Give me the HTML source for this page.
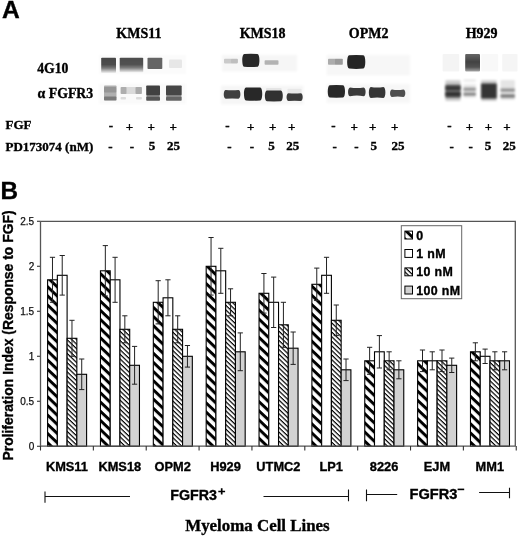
<!DOCTYPE html><html><head><meta charset="utf-8"><style>
html,body{margin:0;padding:0;background:#fff;}
svg{display:block;will-change:transform;}
.ss{font-family:"Liberation Sans",sans-serif;}
.hv{stroke:#000;stroke-width:0.35px;}.hv2{stroke:#111;stroke-width:0.25px;}
.sf{font-family:"Liberation Serif",serif;}
</style></head><body>
<svg width="520" height="537" viewBox="0 0 520 537">
<defs>
<pattern id="pThick" patternUnits="userSpaceOnUse" width="6.58" height="6.58" patternTransform="rotate(43.7) translate(0,3.43)"><rect x="0" y="0" width="6.58" height="6.58" fill="#fff"/><rect x="0" y="0" width="6.58" height="2.96" fill="#000"/></pattern>
<pattern id="pThin" patternUnits="userSpaceOnUse" width="3.29" height="3.29" patternTransform="rotate(43.7) translate(0,1.75)"><rect x="0" y="0" width="3.29" height="3.29" fill="#fff"/><rect x="0" y="0" width="3.29" height="1.2" fill="#000"/></pattern>
<filter id="b1" x="-50%" y="-50%" width="200%" height="200%"><feGaussianBlur stdDeviation="0.75"/></filter>
<filter id="b2" x="-50%" y="-50%" width="200%" height="200%"><feGaussianBlur stdDeviation="0.8"/></filter>
<linearGradient id="gFade" x1="0" y1="0" x2="0" y2="1"><stop offset="0" stop-color="#000" stop-opacity="0.75"/><stop offset="0.55" stop-color="#000" stop-opacity="0.45"/><stop offset="1" stop-color="#000" stop-opacity="0.03"/></linearGradient>
<linearGradient id="gMid" x1="0" y1="0" x2="0" y2="1"><stop offset="0" stop-color="#000" stop-opacity="0.6"/><stop offset="0.45" stop-color="#000" stop-opacity="0.74"/><stop offset="0.75" stop-color="#000" stop-opacity="0.68"/><stop offset="1" stop-color="#000" stop-opacity="0.35"/></linearGradient>
<filter id="b3" x="-50%" y="-50%" width="200%" height="200%"><feGaussianBlur stdDeviation="1.3"/></filter>
<linearGradient id="gBand" x1="0" y1="0" x2="0" y2="1"><stop offset="0" stop-color="#000" stop-opacity="0.72"/><stop offset="0.45" stop-color="#000" stop-opacity="0.7"/><stop offset="0.68" stop-color="#000" stop-opacity="0.52"/><stop offset="0.86" stop-color="#000" stop-opacity="0.25"/><stop offset="1" stop-color="#000" stop-opacity="0.04"/></linearGradient>
<pattern id="pK0" patternUnits="userSpaceOnUse" width="6.63" height="6.63" patternTransform="rotate(43.7) translate(0,0.60)"><rect width="6.63" height="6.63" fill="#fff"/><rect width="6.63" height="2.98" fill="#000"/></pattern>
<pattern id="pN0" patternUnits="userSpaceOnUse" width="3.315" height="3.315" patternTransform="rotate(43.7) translate(0,3.01)"><rect width="3.315" height="3.315" fill="#fff"/><rect width="3.315" height="1.2" fill="#000"/></pattern>
<pattern id="pK1" patternUnits="userSpaceOnUse" width="6.63" height="6.63" patternTransform="rotate(43.7) translate(0,1.04)"><rect width="6.63" height="6.63" fill="#fff"/><rect width="6.63" height="2.98" fill="#000"/></pattern>
<pattern id="pN1" patternUnits="userSpaceOnUse" width="3.315" height="3.315" patternTransform="rotate(43.7) translate(0,0.22)"><rect width="3.315" height="3.315" fill="#fff"/><rect width="3.315" height="1.2" fill="#000"/></pattern>
<pattern id="pK2" patternUnits="userSpaceOnUse" width="6.63" height="6.63" patternTransform="rotate(43.7) translate(0,2.08)"><rect width="6.63" height="6.63" fill="#fff"/><rect width="6.63" height="2.98" fill="#000"/></pattern>
<pattern id="pN2" patternUnits="userSpaceOnUse" width="3.315" height="3.315" patternTransform="rotate(43.7) translate(0,0.81)"><rect width="3.315" height="3.315" fill="#fff"/><rect width="3.315" height="1.2" fill="#000"/></pattern>
<pattern id="pK3" patternUnits="userSpaceOnUse" width="6.63" height="6.63" patternTransform="rotate(43.7) translate(0,1.51)"><rect width="6.63" height="6.63" fill="#fff"/><rect width="6.63" height="2.98" fill="#000"/></pattern>
<pattern id="pN3" patternUnits="userSpaceOnUse" width="3.315" height="3.315" patternTransform="rotate(43.7) translate(0,1.12)"><rect width="3.315" height="3.315" fill="#fff"/><rect width="3.315" height="1.2" fill="#000"/></pattern>
<pattern id="pK4" patternUnits="userSpaceOnUse" width="6.63" height="6.63" patternTransform="rotate(43.7) translate(0,3.90)"><rect width="6.63" height="6.63" fill="#fff"/><rect width="6.63" height="2.98" fill="#000"/></pattern>
<pattern id="pN4" patternUnits="userSpaceOnUse" width="3.315" height="3.315" patternTransform="rotate(43.7) translate(0,3.08)"><rect width="3.315" height="3.315" fill="#fff"/><rect width="3.315" height="1.2" fill="#000"/></pattern>
<pattern id="pK5" patternUnits="userSpaceOnUse" width="6.63" height="6.63" patternTransform="rotate(43.7) translate(0,3.28)"><rect width="6.63" height="6.63" fill="#fff"/><rect width="6.63" height="2.98" fill="#000"/></pattern>
<pattern id="pN5" patternUnits="userSpaceOnUse" width="3.315" height="3.315" patternTransform="rotate(43.7) translate(0,0.36)"><rect width="3.315" height="3.315" fill="#fff"/><rect width="3.315" height="1.2" fill="#000"/></pattern>
<pattern id="pK6" patternUnits="userSpaceOnUse" width="6.63" height="6.63" patternTransform="rotate(43.7) translate(0,5.88)"><rect width="6.63" height="6.63" fill="#fff"/><rect width="6.63" height="2.98" fill="#000"/></pattern>
<pattern id="pN6" patternUnits="userSpaceOnUse" width="3.315" height="3.315" patternTransform="rotate(43.7) translate(0,1.24)"><rect width="3.315" height="3.315" fill="#fff"/><rect width="3.315" height="1.2" fill="#000"/></pattern>
<pattern id="pK7" patternUnits="userSpaceOnUse" width="6.63" height="6.63" patternTransform="rotate(43.7) translate(0,6.06)"><rect width="6.63" height="6.63" fill="#fff"/><rect width="6.63" height="2.98" fill="#000"/></pattern>
<pattern id="pN7" patternUnits="userSpaceOnUse" width="3.315" height="3.315" patternTransform="rotate(43.7) translate(0,1.97)"><rect width="3.315" height="3.315" fill="#fff"/><rect width="3.315" height="1.2" fill="#000"/></pattern>
<pattern id="pK8" patternUnits="userSpaceOnUse" width="6.63" height="6.63" patternTransform="rotate(43.7) translate(0,6.43)"><rect width="6.63" height="6.63" fill="#fff"/><rect width="6.63" height="2.98" fill="#000"/></pattern>
<pattern id="pN8" patternUnits="userSpaceOnUse" width="3.315" height="3.315" patternTransform="rotate(43.7) translate(0,2.43)"><rect width="3.315" height="3.315" fill="#fff"/><rect width="3.315" height="1.2" fill="#000"/></pattern>
</defs>
<text class="ss hv" x="1.9" y="18.4" font-size="24.6" font-weight="bold">A</text>
<text class="sf hv" x="138.9" y="38.3" font-size="14" font-weight="bold" text-anchor="middle">KMS11</text>
<text class="sf hv" x="262.6" y="38.3" font-size="14" font-weight="bold" text-anchor="middle">KMS18</text>
<text class="sf hv" x="368.7" y="38.3" font-size="14" font-weight="bold" text-anchor="middle">OPM2</text>
<text class="sf hv" x="481.6" y="38.3" font-size="14" font-weight="bold" text-anchor="middle">H929</text>
<text class="sf hv" x="37.2" y="73.2" font-size="13.7" font-weight="bold">4G10</text>
<text class="sf hv" x="37.6" y="98.1" font-size="13.8" font-weight="bold">α FGFR3</text>
<text class="sf hv" x="5.5" y="129.2" font-size="13" font-weight="bold">FGF</text>
<text class="sf hv" x="5.5" y="150.5" font-size="13" font-weight="bold">PD173074 (nM)</text>
<text class="sf hv" x="110.8" y="130.0" font-size="13" font-weight="bold" text-anchor="middle">-</text>
<text class="sf hv" x="129.4" y="130.6" font-size="13" font-weight="bold" text-anchor="middle">+</text>
<text class="sf hv" x="151.1" y="130.6" font-size="13" font-weight="bold" text-anchor="middle">+</text>
<text class="sf hv" x="173.2" y="130.6" font-size="13" font-weight="bold" text-anchor="middle">+</text>
<text class="sf hv" x="110.4" y="151.2" font-size="13" font-weight="bold" text-anchor="middle">-</text>
<text class="sf hv" x="132.0" y="151.2" font-size="13" font-weight="bold" text-anchor="middle">-</text>
<text class="sf hv" x="152.0" y="150.3" font-size="13" font-weight="bold" text-anchor="middle">5</text>
<text class="sf hv" x="173.4" y="150.3" font-size="13" font-weight="bold" text-anchor="middle">25</text>
<text class="sf hv" x="227.3" y="130.0" font-size="13" font-weight="bold" text-anchor="middle">-</text>
<text class="sf hv" x="250.8" y="130.6" font-size="13" font-weight="bold" text-anchor="middle">+</text>
<text class="sf hv" x="272.8" y="130.6" font-size="13" font-weight="bold" text-anchor="middle">+</text>
<text class="sf hv" x="291.8" y="130.6" font-size="13" font-weight="bold" text-anchor="middle">+</text>
<text class="sf hv" x="229.5" y="151.2" font-size="13" font-weight="bold" text-anchor="middle">-</text>
<text class="sf hv" x="252.0" y="151.2" font-size="13" font-weight="bold" text-anchor="middle">-</text>
<text class="sf hv" x="271.6" y="150.3" font-size="13" font-weight="bold" text-anchor="middle">5</text>
<text class="sf hv" x="292.7" y="150.3" font-size="13" font-weight="bold" text-anchor="middle">25</text>
<text class="sf hv" x="333.5" y="130.0" font-size="13" font-weight="bold" text-anchor="middle">-</text>
<text class="sf hv" x="354.3" y="130.6" font-size="13" font-weight="bold" text-anchor="middle">+</text>
<text class="sf hv" x="372.8" y="130.6" font-size="13" font-weight="bold" text-anchor="middle">+</text>
<text class="sf hv" x="394.8" y="130.6" font-size="13" font-weight="bold" text-anchor="middle">+</text>
<text class="sf hv" x="334.7" y="151.2" font-size="13" font-weight="bold" text-anchor="middle">-</text>
<text class="sf hv" x="356.3" y="151.2" font-size="13" font-weight="bold" text-anchor="middle">-</text>
<text class="sf hv" x="373.7" y="150.3" font-size="13" font-weight="bold" text-anchor="middle">5</text>
<text class="sf hv" x="397.9" y="150.3" font-size="13" font-weight="bold" text-anchor="middle">25</text>
<text class="sf hv" x="449.4" y="130.0" font-size="13" font-weight="bold" text-anchor="middle">-</text>
<text class="sf hv" x="469.5" y="130.6" font-size="13" font-weight="bold" text-anchor="middle">+</text>
<text class="sf hv" x="488.5" y="130.6" font-size="13" font-weight="bold" text-anchor="middle">+</text>
<text class="sf hv" x="507.0" y="130.6" font-size="13" font-weight="bold" text-anchor="middle">+</text>
<text class="sf hv" x="451.6" y="151.2" font-size="13" font-weight="bold" text-anchor="middle">-</text>
<text class="sf hv" x="470.7" y="151.2" font-size="13" font-weight="bold" text-anchor="middle">-</text>
<text class="sf hv" x="488.0" y="150.3" font-size="13" font-weight="bold" text-anchor="middle">5</text>
<text class="sf hv" x="509.3" y="150.3" font-size="13" font-weight="bold" text-anchor="middle">25</text>
<g>
<rect x="99.0" y="83.5" width="87.0" height="20.5" rx="0" fill="#000" fill-opacity="0.02" filter="url(#b2)"/>
<rect x="99.0" y="55.0" width="87.0" height="19.0" rx="0" fill="#000" fill-opacity="0.015" filter="url(#b2)"/>
<rect x="222.0" y="54.8" width="75.0" height="16.7" rx="0" fill="#000" fill-opacity="0.035" filter="url(#b2)"/>
<rect x="221.0" y="85.5" width="82.5" height="19.0" rx="0" fill="#000" fill-opacity="0.035" filter="url(#b2)"/>
<rect x="326.6" y="55.0" width="83.4" height="20.4" rx="0" fill="#000" fill-opacity="0.03" filter="url(#b2)"/>
<rect x="326.6" y="84.0" width="83.4" height="19.0" rx="0" fill="#000" fill-opacity="0.03" filter="url(#b2)"/>
<rect x="101.2" y="57.7" width="14.8" height="15.3" rx="0.8" fill="url(#gBand)" fill-opacity="1" filter="url(#b1)"/>
<rect x="119.7" y="57.8" width="23.5" height="14.7" rx="0.8" fill="url(#gBand)" fill-opacity="0.97" filter="url(#b1)"/>
<rect x="147.5" y="57.7" width="14.8" height="11.4" rx="0.8" fill="#000" fill-opacity="0.6" filter="url(#b1)"/>
<rect x="169.0" y="59.5" width="13.0" height="8.5" rx="0.8" fill="#000" fill-opacity="0.08" filter="url(#b1)"/>
<rect x="104.0" y="85.5" width="12.5" height="15.3" rx="0.8" fill="#000" fill-opacity="0.3" filter="url(#b1)"/>
<rect x="104.0" y="87.0" width="12.5" height="5.5" rx="0.8" fill="#000" fill-opacity="0.15" filter="url(#b1)"/>
<rect x="104.0" y="96.5" width="12.5" height="3.8" rx="0.8" fill="#000" fill-opacity="0.3" filter="url(#b1)"/>
<rect x="120.6" y="87.0" width="21.3" height="7.0" rx="0.8" fill="#000" fill-opacity="0.13" filter="url(#b1)"/>
<rect x="120.6" y="87.0" width="5.9" height="7.0" rx="0.8" fill="#000" fill-opacity="0.2" filter="url(#b1)"/>
<rect x="135.5" y="87.0" width="6.4" height="7.0" rx="0.8" fill="#000" fill-opacity="0.22" filter="url(#b1)"/>
<rect x="120.6" y="97.0" width="5.4" height="2.5" rx="0.8" fill="#000" fill-opacity="0.12" filter="url(#b1)"/>
<rect x="136.0" y="97.0" width="5.9" height="2.5" rx="0.8" fill="#000" fill-opacity="0.12" filter="url(#b1)"/>
<rect x="146.2" y="85.5" width="13.8" height="9.7" rx="0.8" fill="#000" fill-opacity="0.74" filter="url(#b1)"/>
<rect x="146.2" y="95.2" width="13.8" height="1.6" rx="0.8" fill="#000" fill-opacity="0.55" filter="url(#b1)"/>
<rect x="146.2" y="96.8" width="13.8" height="4.0" rx="0.8" fill="#000" fill-opacity="0.66" filter="url(#b1)"/>
<rect x="166.0" y="85.5" width="15.7" height="9.7" rx="0.8" fill="#000" fill-opacity="0.72" filter="url(#b1)"/>
<rect x="166.0" y="95.2" width="15.7" height="1.6" rx="0.8" fill="#000" fill-opacity="0.5" filter="url(#b1)"/>
<rect x="166.0" y="96.8" width="15.7" height="4.0" rx="0.8" fill="#000" fill-opacity="0.6" filter="url(#b1)"/>
<rect x="224.0" y="58.8" width="13.9" height="4.6" rx="0.8" fill="#000" fill-opacity="0.18" filter="url(#b1)"/>
<rect x="231.0" y="58.8" width="6.9" height="4.6" rx="0.8" fill="#000" fill-opacity="0.06" filter="url(#b1)"/>
<path d="M244.3 54.0Q250.8 53.5 257.4 54.0C260.1 54.0 260.1 66.8 257.4 66.8Q250.8 67.3 244.3 66.8C241.6 66.8 241.6 54.0 244.3 54.0Z" fill="#000" fill-opacity="0.84" filter="url(#b1)"/>
<rect x="264.6" y="60.2" width="13.9" height="4.6" rx="0.8" fill="#000" fill-opacity="0.27" filter="url(#b1)"/>
<path d="M225.8 90.0Q232.1 90.6 238.4 90.0C241.1 90.0 241.1 98.7 238.4 98.7Q232.1 98.1 225.8 98.7C223.1 98.7 223.1 90.0 225.8 90.0Z" fill="#000" fill-opacity="0.74" filter="url(#b1)"/>
<path d="M246.0 87.6Q253.1 87.2 260.2 87.6C262.9 87.6 262.9 100.5 260.2 100.5Q253.1 100.9 246.0 100.5C243.3 100.5 243.3 87.6 246.0 87.6Z" fill="#000" fill-opacity="0.84" filter="url(#b1)"/>
<rect x="266.0" y="88.0" width="15.6" height="3.5" rx="0.8" fill="#000" fill-opacity="0.07" filter="url(#b1)"/>
<path d="M266.9 90.6Q273.9 90.4 280.8 90.6C283.5 90.6 283.5 101.3 280.8 101.3Q273.9 101.5 266.9 101.3C264.2 101.3 264.2 90.6 266.9 90.6Z" fill="#000" fill-opacity="0.8" filter="url(#b1)"/>
<rect x="287.5" y="88.8" width="14.0" height="5.2" rx="0.8" fill="#000" fill-opacity="0.06" filter="url(#b1)"/>
<path d="M288.6 93.2Q294.6 93.6 300.7 93.2C303.4 93.2 303.4 101.0 300.7 101.0Q294.6 100.6 288.6 101.0C285.9 101.0 285.9 93.2 288.6 93.2Z" fill="#000" fill-opacity="0.76" filter="url(#b1)"/>
<rect x="328.0" y="58.8" width="14.8" height="6.0" rx="0.8" fill="#000" fill-opacity="0.3" filter="url(#b1)"/>
<rect x="335.0" y="58.8" width="7.8" height="6.0" rx="0.8" fill="#000" fill-opacity="0.1" filter="url(#b1)"/>
<path d="M349.2 55.2Q356.2 54.6 363.3 55.2C366.0 55.2 366.0 68.6 363.3 68.6Q356.2 69.2 349.2 68.6C346.5 68.6 346.5 55.2 349.2 55.2Z" fill="#000" fill-opacity="0.85" filter="url(#b1)"/>
<path d="M329.8 85.2Q336.4 84.9 343.0 85.2C345.7 85.2 345.7 97.5 343.0 97.5Q336.4 97.8 329.8 97.5C327.1 97.5 327.1 85.2 329.8 85.2Z" fill="#000" fill-opacity="0.84" filter="url(#b1)"/>
<path d="M350.1 87.4Q356.9 88.8 363.6 87.4C366.3 87.4 366.3 96.3 363.6 96.3Q356.9 94.9 350.1 96.3C347.4 96.3 347.4 87.4 350.1 87.4Z" fill="#000" fill-opacity="0.76" filter="url(#b1)"/>
<path d="M370.9 86.9Q377.1 88.1 383.4 86.9C386.1 86.9 386.1 98.0 383.4 98.0Q377.1 96.8 370.9 98.0C368.2 98.0 368.2 86.9 370.9 86.9Z" fill="#000" fill-opacity="0.78" filter="url(#b1)"/>
<path d="M392.1 89.6Q397.7 90.6 403.3 89.6C406.0 89.6 406.0 97.1 403.3 97.1Q397.7 96.1 392.1 97.1C389.4 97.1 389.4 89.6 392.1 89.6Z" fill="#000" fill-opacity="0.68" filter="url(#b1)"/>
<rect x="442.6" y="54.0" width="16.6" height="17.5" rx="0.8" fill="#000" fill-opacity="0.045" filter="url(#b1)"/>
<rect x="465.2" y="54.0" width="14.8" height="17.5" rx="1" fill="url(#gMid)" fill-opacity="1" filter="url(#b1)"/>
<rect x="481.2" y="54.0" width="17.0" height="17.5" rx="0.8" fill="#000" fill-opacity="0.028" filter="url(#b1)"/>
<rect x="502.2" y="54.0" width="15.4" height="17.5" rx="0.8" fill="#000" fill-opacity="0.038" filter="url(#b1)"/>
<rect x="445.4" y="80.2" width="15.2" height="20.8" rx="0.8" fill="#000" fill-opacity="0.2" filter="url(#b3)"/>
<rect x="445.4" y="84.5" width="15.2" height="13.5" rx="0.8" fill="#000" fill-opacity="0.45" filter="url(#b3)"/>
<rect x="445.4" y="86.0" width="15.2" height="4.2" rx="0.8" fill="#000" fill-opacity="0.5" filter="url(#b3)"/>
<rect x="445.4" y="92.0" width="15.2" height="4.2" rx="0.8" fill="#000" fill-opacity="0.55" filter="url(#b3)"/>
<rect x="463.4" y="79.5" width="12.5" height="2.0" rx="0.8" fill="#000" fill-opacity="0.1" filter="url(#b3)"/>
<rect x="463.4" y="87.5" width="12.5" height="3.5" rx="0.8" fill="#000" fill-opacity="0.34" filter="url(#b3)"/>
<rect x="463.4" y="92.5" width="12.5" height="3.3" rx="0.8" fill="#000" fill-opacity="0.42" filter="url(#b3)"/>
<rect x="463.4" y="84.0" width="12.5" height="14.0" rx="0.8" fill="#000" fill-opacity="0.08" filter="url(#b3)"/>
<rect x="481.1" y="80.2" width="15.6" height="20.8" rx="0.8" fill="#000" fill-opacity="0.2" filter="url(#b3)"/>
<rect x="481.1" y="83.5" width="15.6" height="15.0" rx="0.8" fill="#000" fill-opacity="0.74" filter="url(#b3)"/>
<rect x="500.5" y="80.0" width="14.4" height="20.0" rx="0.8" fill="#000" fill-opacity="0.1" filter="url(#b3)"/>
<rect x="500.5" y="88.5" width="14.4" height="3.3" rx="0.8" fill="#000" fill-opacity="0.36" filter="url(#b3)"/>
<rect x="500.5" y="94.3" width="14.4" height="3.5" rx="0.8" fill="#000" fill-opacity="0.45" filter="url(#b3)"/>
</g>
<text class="ss hv" x="0.4" y="199.2" font-size="24.3" font-weight="bold">B</text>
<text class="ss hv" transform="translate(13.1,460.5) rotate(-90)" x="0" y="0" font-size="13.9" font-weight="bold">Proliferation Index (Response to FGF)</text>
<text class="ss hv2" x="34.2" y="449.6" font-size="10" text-anchor="end" fill="#111">0</text>
<line x1="37" y1="446.3" x2="40.5" y2="446.3" stroke="#444" stroke-width="1.2"/>
<text class="ss hv2" x="34.2" y="404.6" font-size="10" text-anchor="end" fill="#111">0.5</text>
<line x1="37" y1="401.3" x2="40.5" y2="401.3" stroke="#444" stroke-width="1.2"/>
<text class="ss hv2" x="34.2" y="359.6" font-size="10" text-anchor="end" fill="#111">1</text>
<line x1="37" y1="356.3" x2="40.5" y2="356.3" stroke="#444" stroke-width="1.2"/>
<text class="ss hv2" x="34.2" y="314.6" font-size="10" text-anchor="end" fill="#111">1.5</text>
<line x1="37" y1="311.3" x2="40.5" y2="311.3" stroke="#444" stroke-width="1.2"/>
<text class="ss hv2" x="34.2" y="269.6" font-size="10" text-anchor="end" fill="#111">2</text>
<line x1="37" y1="266.3" x2="40.5" y2="266.3" stroke="#444" stroke-width="1.2"/>
<text class="ss hv2" x="34.2" y="224.6" font-size="10" text-anchor="end" fill="#111">2.5</text>
<line x1="37" y1="221.3" x2="40.5" y2="221.3" stroke="#444" stroke-width="1.2"/>
<rect x="47.60" y="279.80" width="9.75" height="166.50" fill="url(#pK0)" stroke="#000" stroke-width="1.1"/>
<rect x="57.35" y="275.30" width="9.75" height="171.00" fill="#fff" stroke="#000" stroke-width="1.1"/>
<rect x="67.10" y="338.30" width="9.75" height="108.00" fill="url(#pN0)" stroke="#000" stroke-width="1.1"/>
<rect x="76.85" y="374.30" width="9.75" height="72.00" fill="#d2d2d2" stroke="#000" stroke-width="1.1"/>
<path d="M52.48 257.30V302.30M49.88 257.30H55.08M49.88 302.30H55.08" stroke="#222" stroke-width="1" fill="none"/>
<path d="M62.23 255.50V295.10M59.62 255.50H64.83M59.62 295.10H64.83" stroke="#222" stroke-width="1" fill="none"/>
<path d="M71.97 320.30V356.30M69.38 320.30H74.57M69.38 356.30H74.57" stroke="#222" stroke-width="1" fill="none"/>
<path d="M81.72 359.00V389.60M79.12 359.00H84.32M79.12 389.60H84.32" stroke="#222" stroke-width="1" fill="none"/>
<text x="66.93" y="471.2" font-size="12.8" font-weight="bold" text-anchor="middle" class="ss hv">KMS11</text>
<rect x="100.46" y="270.80" width="9.75" height="175.50" fill="url(#pK1)" stroke="#000" stroke-width="1.1"/>
<rect x="110.21" y="279.80" width="9.75" height="166.50" fill="#fff" stroke="#000" stroke-width="1.1"/>
<rect x="119.96" y="329.30" width="9.75" height="117.00" fill="url(#pN1)" stroke="#000" stroke-width="1.1"/>
<rect x="129.71" y="365.30" width="9.75" height="81.00" fill="#d2d2d2" stroke="#000" stroke-width="1.1"/>
<path d="M105.33 245.60V296.00M102.73 245.60H107.93M102.73 296.00H107.93" stroke="#222" stroke-width="1" fill="none"/>
<path d="M115.08 257.30V302.30M112.48 257.30H117.68M112.48 302.30H117.68" stroke="#222" stroke-width="1" fill="none"/>
<path d="M124.83 315.80V342.80M122.23 315.80H127.43M122.23 342.80H127.43" stroke="#222" stroke-width="1" fill="none"/>
<path d="M134.58 346.40V384.20M131.98 346.40H137.18M131.98 384.20H137.18" stroke="#222" stroke-width="1" fill="none"/>
<text x="119.79" y="471.2" font-size="12.8" font-weight="bold" text-anchor="middle" class="ss hv">KMS18</text>
<rect x="153.32" y="302.30" width="9.75" height="144.00" fill="url(#pK2)" stroke="#000" stroke-width="1.1"/>
<rect x="163.07" y="297.80" width="9.75" height="148.50" fill="#fff" stroke="#000" stroke-width="1.1"/>
<rect x="172.82" y="329.30" width="9.75" height="117.00" fill="url(#pN2)" stroke="#000" stroke-width="1.1"/>
<rect x="182.57" y="356.30" width="9.75" height="90.00" fill="#d2d2d2" stroke="#000" stroke-width="1.1"/>
<path d="M158.19 280.70V323.90M155.59 280.70H160.79M155.59 323.90H160.79" stroke="#222" stroke-width="1" fill="none"/>
<path d="M167.94 279.80V315.80M165.34 279.80H170.54M165.34 315.80H170.54" stroke="#222" stroke-width="1" fill="none"/>
<path d="M177.69 315.80V342.80M175.09 315.80H180.29M175.09 342.80H180.29" stroke="#222" stroke-width="1" fill="none"/>
<path d="M187.44 345.50V367.10M184.84 345.50H190.04M184.84 367.10H190.04" stroke="#222" stroke-width="1" fill="none"/>
<text x="172.65" y="471.2" font-size="12.8" font-weight="bold" text-anchor="middle" class="ss hv">OPM2</text>
<rect x="206.18" y="266.30" width="9.75" height="180.00" fill="url(#pK3)" stroke="#000" stroke-width="1.1"/>
<rect x="215.93" y="270.80" width="9.75" height="175.50" fill="#fff" stroke="#000" stroke-width="1.1"/>
<rect x="225.68" y="302.30" width="9.75" height="144.00" fill="url(#pN3)" stroke="#000" stroke-width="1.1"/>
<rect x="235.43" y="351.80" width="9.75" height="94.50" fill="#d2d2d2" stroke="#000" stroke-width="1.1"/>
<path d="M211.05 237.50V295.10M208.45 237.50H213.65M208.45 295.10H213.65" stroke="#222" stroke-width="1" fill="none"/>
<path d="M220.80 248.30V293.30M218.20 248.30H223.40M218.20 293.30H223.40" stroke="#222" stroke-width="1" fill="none"/>
<path d="M230.55 288.80V315.80M227.95 288.80H233.15M227.95 315.80H233.15" stroke="#222" stroke-width="1" fill="none"/>
<path d="M240.30 332.90V370.70M237.70 332.90H242.90M237.70 370.70H242.90" stroke="#222" stroke-width="1" fill="none"/>
<text x="225.51" y="471.2" font-size="12.8" font-weight="bold" text-anchor="middle" class="ss hv">H929</text>
<rect x="259.04" y="293.30" width="9.75" height="153.00" fill="url(#pK4)" stroke="#000" stroke-width="1.1"/>
<rect x="268.79" y="302.30" width="9.75" height="144.00" fill="#fff" stroke="#000" stroke-width="1.1"/>
<rect x="278.54" y="324.80" width="9.75" height="121.50" fill="url(#pN4)" stroke="#000" stroke-width="1.1"/>
<rect x="288.29" y="348.20" width="9.75" height="98.10" fill="#d2d2d2" stroke="#000" stroke-width="1.1"/>
<path d="M263.92 273.50V313.10M261.31 273.50H266.52M261.31 313.10H266.52" stroke="#222" stroke-width="1" fill="none"/>
<path d="M273.67 277.10V327.50M271.06 277.10H276.27M271.06 327.50H276.27" stroke="#222" stroke-width="1" fill="none"/>
<path d="M283.42 302.30V347.30M280.81 302.30H286.02M280.81 347.30H286.02" stroke="#222" stroke-width="1" fill="none"/>
<path d="M293.17 332.00V364.40M290.56 332.00H295.77M290.56 364.40H295.77" stroke="#222" stroke-width="1" fill="none"/>
<text x="278.37" y="471.2" font-size="12.8" font-weight="bold" text-anchor="middle" class="ss hv">UTMC2</text>
<rect x="311.90" y="284.30" width="9.75" height="162.00" fill="url(#pK5)" stroke="#000" stroke-width="1.1"/>
<rect x="321.65" y="275.30" width="9.75" height="171.00" fill="#fff" stroke="#000" stroke-width="1.1"/>
<rect x="331.40" y="320.30" width="9.75" height="126.00" fill="url(#pN5)" stroke="#000" stroke-width="1.1"/>
<rect x="341.15" y="369.80" width="9.75" height="76.50" fill="#d2d2d2" stroke="#000" stroke-width="1.1"/>
<path d="M316.78 268.10V300.50M314.18 268.10H319.38M314.18 300.50H319.38" stroke="#222" stroke-width="1" fill="none"/>
<path d="M326.53 257.30V293.30M323.93 257.30H329.13M323.93 293.30H329.13" stroke="#222" stroke-width="1" fill="none"/>
<path d="M336.28 305.00V335.60M333.68 305.00H338.88M333.68 335.60H338.88" stroke="#222" stroke-width="1" fill="none"/>
<path d="M346.03 359.00V380.60M343.43 359.00H348.63M343.43 380.60H348.63" stroke="#222" stroke-width="1" fill="none"/>
<text x="331.23" y="471.2" font-size="12.8" font-weight="bold" text-anchor="middle" class="ss hv">LP1</text>
<rect x="364.76" y="360.80" width="9.75" height="85.50" fill="url(#pK6)" stroke="#000" stroke-width="1.1"/>
<rect x="374.51" y="351.80" width="9.75" height="94.50" fill="#fff" stroke="#000" stroke-width="1.1"/>
<rect x="384.26" y="360.80" width="9.75" height="85.50" fill="url(#pN6)" stroke="#000" stroke-width="1.1"/>
<rect x="394.01" y="369.80" width="9.75" height="76.50" fill="#d2d2d2" stroke="#000" stroke-width="1.1"/>
<path d="M369.63 347.30V374.30M367.03 347.30H372.24M367.03 374.30H372.24" stroke="#222" stroke-width="1" fill="none"/>
<path d="M379.38 335.60V368.00M376.78 335.60H381.99M376.78 368.00H381.99" stroke="#222" stroke-width="1" fill="none"/>
<path d="M389.13 351.80V369.80M386.53 351.80H391.74M386.53 369.80H391.74" stroke="#222" stroke-width="1" fill="none"/>
<path d="M398.88 360.80V378.80M396.28 360.80H401.49M396.28 378.80H401.49" stroke="#222" stroke-width="1" fill="none"/>
<text x="384.09" y="471.2" font-size="12.8" font-weight="bold" text-anchor="middle" class="ss hv">8226</text>
<rect x="417.62" y="360.80" width="9.75" height="85.50" fill="url(#pK7)" stroke="#000" stroke-width="1.1"/>
<rect x="427.37" y="360.80" width="9.75" height="85.50" fill="#fff" stroke="#000" stroke-width="1.1"/>
<rect x="437.12" y="360.80" width="9.75" height="85.50" fill="url(#pN7)" stroke="#000" stroke-width="1.1"/>
<rect x="446.87" y="365.30" width="9.75" height="81.00" fill="#d2d2d2" stroke="#000" stroke-width="1.1"/>
<path d="M422.50 350.00V371.60M419.89 350.00H425.10M419.89 371.60H425.10" stroke="#222" stroke-width="1" fill="none"/>
<path d="M432.25 351.80V369.80M429.64 351.80H434.85M429.64 369.80H434.85" stroke="#222" stroke-width="1" fill="none"/>
<path d="M442.00 350.00V371.60M439.39 350.00H444.60M439.39 371.60H444.60" stroke="#222" stroke-width="1" fill="none"/>
<path d="M451.75 358.10V372.50M449.14 358.10H454.35M449.14 372.50H454.35" stroke="#222" stroke-width="1" fill="none"/>
<text x="436.95" y="471.2" font-size="12.8" font-weight="bold" text-anchor="middle" class="ss hv">EJM</text>
<rect x="470.48" y="351.80" width="9.75" height="94.50" fill="url(#pK8)" stroke="#000" stroke-width="1.1"/>
<rect x="480.23" y="356.30" width="9.75" height="90.00" fill="#fff" stroke="#000" stroke-width="1.1"/>
<rect x="489.98" y="360.80" width="9.75" height="85.50" fill="url(#pN8)" stroke="#000" stroke-width="1.1"/>
<rect x="499.73" y="360.80" width="9.75" height="85.50" fill="#d2d2d2" stroke="#000" stroke-width="1.1"/>
<path d="M475.36 342.80V360.80M472.75 342.80H477.96M472.75 360.80H477.96" stroke="#222" stroke-width="1" fill="none"/>
<path d="M485.11 349.10V363.50M482.50 349.10H487.71M482.50 363.50H487.71" stroke="#222" stroke-width="1" fill="none"/>
<path d="M494.86 351.80V369.80M492.25 351.80H497.46M492.25 369.80H497.46" stroke="#222" stroke-width="1" fill="none"/>
<path d="M504.61 351.80V369.80M502.00 351.80H507.21M502.00 369.80H507.21" stroke="#222" stroke-width="1" fill="none"/>
<text x="489.81" y="471.2" font-size="12.8" font-weight="bold" text-anchor="middle" class="ss hv">MM1</text>
<path d="M40.5 221.3H515.3V446.2M40.5 221.3V446.2H515.8" stroke="#555" stroke-width="1.3" fill="none"/>
<line x1="40.50" y1="446" x2="40.50" y2="450.5" stroke="#333" stroke-width="1.1"/>
<line x1="93.36" y1="446" x2="93.36" y2="450.5" stroke="#333" stroke-width="1.1"/>
<line x1="146.22" y1="446" x2="146.22" y2="450.5" stroke="#333" stroke-width="1.1"/>
<line x1="199.08" y1="446" x2="199.08" y2="450.5" stroke="#333" stroke-width="1.1"/>
<line x1="251.94" y1="446" x2="251.94" y2="450.5" stroke="#333" stroke-width="1.1"/>
<line x1="304.80" y1="446" x2="304.80" y2="450.5" stroke="#333" stroke-width="1.1"/>
<line x1="357.66" y1="446" x2="357.66" y2="450.5" stroke="#333" stroke-width="1.1"/>
<line x1="410.52" y1="446" x2="410.52" y2="450.5" stroke="#333" stroke-width="1.1"/>
<line x1="463.38" y1="446" x2="463.38" y2="450.5" stroke="#333" stroke-width="1.1"/>
<line x1="516.24" y1="446" x2="516.24" y2="450.5" stroke="#333" stroke-width="1.1"/>
<rect x="401.3" y="225.7" width="60.4" height="73" fill="#fff" stroke="#666" stroke-width="1"/>
<rect x="404.9" y="231.1" width="7.6" height="7.9" fill="url(#pThick)" stroke="#000" stroke-width="1"/>
<text class="ss hv" x="416.3" y="239.5" font-size="12.4" letter-spacing="0.35" font-weight="bold">0</text>
<rect x="404.9" y="249.5" width="7.6" height="7.9" fill="#fff" stroke="#000" stroke-width="1"/>
<text class="ss hv" x="416.3" y="257.9" font-size="12.4" letter-spacing="0.35" font-weight="bold">1 nM</text>
<rect x="404.9" y="267.9" width="7.6" height="7.9" fill="url(#pThin)" stroke="#000" stroke-width="1"/>
<text class="ss hv" x="416.3" y="276.3" font-size="12.4" letter-spacing="0.35" font-weight="bold">10 nM</text>
<rect x="404.9" y="286.1" width="7.6" height="7.9" fill="#d2d2d2" stroke="#000" stroke-width="1"/>
<text class="ss hv" x="416.3" y="294.5" font-size="12.4" letter-spacing="0.35" font-weight="bold">100 nM</text>
<path d="M44.5 496.5H130M45 491.5V502.7" stroke="#111" stroke-width="1.1" fill="none"/>
<path d="M263.5 496.5H348.5M348.5 489.6V501.2" stroke="#111" stroke-width="1.1" fill="none"/>
<path d="M366 494.5H397.2M366.5 489.4V501.3" stroke="#111" stroke-width="1.1" fill="none"/>
<path d="M479.1 492.5H509.5M509.5 487.7V498.3" stroke="#111" stroke-width="1.1" fill="none"/>
<text class="ss hv" x="170.2" y="500" font-size="14" font-weight="bold" textLength="46.7" lengthAdjust="spacingAndGlyphs">FGFR3</text><path d="M218.3 491.5H225.1M221.7 488.3V494.6" stroke="#000" stroke-width="1.7"/>
<text class="ss hv" x="409.5" y="498.8" font-size="14" font-weight="bold" textLength="47.8" lengthAdjust="spacingAndGlyphs">FGFR3</text><rect x="457.6" y="488.6" width="6.6" height="1.6" fill="#000"/>
<text class="sf hv" x="185.2" y="531.3" font-size="16.9" font-weight="bold">Myeloma Cell Lines</text>
</svg></body></html>
